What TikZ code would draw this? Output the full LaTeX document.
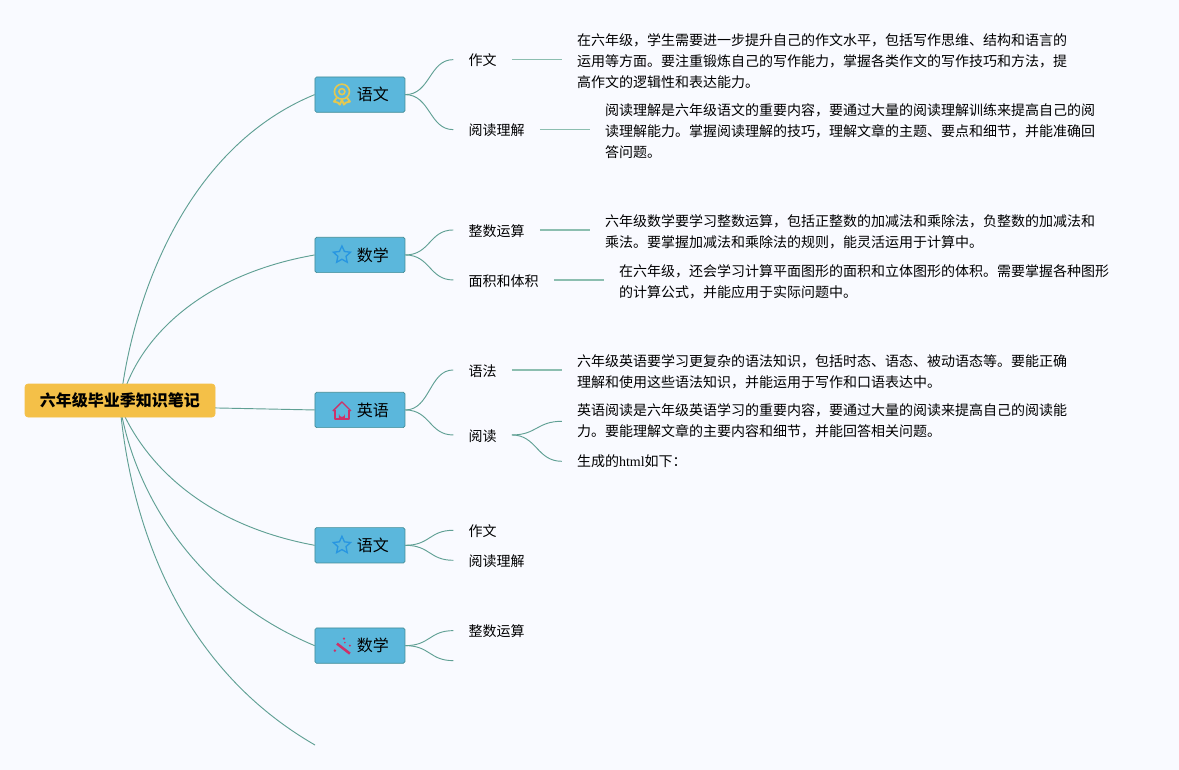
\documentclass[tikz,border=0pt]{standalone}
\usepackage{fontspec}
\setmainfont{Noto Sans CJK SC}
\newfontfamily\htmlfont{Liberation Serif}
\newcommand{\dou}{^^^^ff0c}
\newcommand{\mao}{^^^^ff1a}
\definecolor{paper}{RGB}{249,250,255}
\definecolor{rootfill}{RGB}{244,192,72}
\definecolor{topicfill}{RGB}{91,183,220}
\definecolor{topicline}{RGB}{66,140,150}
\definecolor{linkgreen}{RGB}{96,160,148}
\definecolor{stubgreen}{RGB}{140,190,176}
\definecolor{ribbongold}{RGB}{228,200,80}
\definecolor{starblue}{RGB}{40,150,225}
\definecolor{crimson}{RGB}{205,50,105}
\usepackage{tikz}
\usetikzlibrary{positioning,shapes.geometric,backgrounds}

\begin{document}
\begin{tikzpicture}[
    x=0.75pt, y=-0.75pt,
    rootbox/.style={draw=rootfill, fill=rootfill, rounded corners=2.2pt, minimum width=142.5pt, minimum height=24.75pt, inner sep=0pt, font=\fontsize{12}{14}\selectfont\bfseries},
    topic/.style={draw=topicline, line width=0.5pt, fill=topicfill, rounded corners=1.2pt, minimum width=67.5pt, minimum height=26.5pt, inner sep=0pt, font=\fontsize{12}{14}\selectfont},
    branch/.style={draw=linkgreen, line width=0.7pt},
    twig/.style={draw=linkgreen, line width=0.7pt},
    stub/.style={draw=stubgreen, line width=0.9pt},
    child/.style={inner xsep=11.25pt, inner ysep=0pt, text height=11.5pt, text depth=2pt, font=\fontsize{10.5}{15.75}\selectfont},
    leaf/.style={inner xsep=11.25pt, inner ysep=1pt, yshift=-1.25pt, align=left, font=\fontsize{10.5}{15.75}\selectfont},
    staricon/.style={star, star points=5, star point ratio=2.1, draw=starblue, line width=1pt, minimum size=13.5pt, inner sep=0pt},
    medal/.pic={
        \draw[ribbongold, line width=1.2pt] (0,-3) circle (7.5);
        \draw[ribbongold, line width=1.2pt] (0,-3) circle (3);
        \draw[ribbongold, line width=1.4pt, line join=round] (-5,3) -- (-8,7) -- (-4,8) -- (-2,10) -- (0,5) -- (2,10) -- (4,8) -- (8,7) -- (5,3);
    },
    house/.pic={
        \draw[crimson, line width=1pt, line join=round] (-9,1) -- (0,-8) -- (9,1);
        \draw[crimson, line width=1pt, line join=round] (-7,0) -- (-7,9) -- (7,9) -- (7,0);
        \fill[crimson] (-3,9) -- (-3,4) arc[start angle=180, end angle=0, radius=3] -- (3,9) -- cycle;
    },
    wand/.pic={
        \draw[crimson, line width=1.9pt] (-5,-2) -- (8,8);
        \fill[crimson] (2,-7) circle (1.3) (-7,5) circle (1.4) (8,0) circle (1.1);
        \fill[crimson] (3,-3) circle (0.9);
    }
]
    \node[rootbox] (root) at (120,400.5) {六年级毕业季知识笔记};
    \coordinate (hub) at (120,406);

    \node[topic, right=74.5pt of root, yshift=-7.1pt] (yingyu) {\hspace{19.5pt}英语};
    \node[topic, above=89.25pt of yingyu] (shuxue) {\hspace{19.5pt}数学};
    \node[topic, above=93.25pt of shuxue] (yuwen) {\hspace{19.5pt}语文};
    \node[topic, below=74.5pt of yingyu] (yuwenb) {\hspace{19.5pt}语文};
    \node[topic, below=48.25pt of yuwenb] (shuxueb) {\hspace{19.5pt}数学};
    \coordinate (lastend) at (315,745);

    \pic at ([xshift=-13.5pt]yuwen.center) {medal};
    \node[staricon] (star1) at ([xshift=-13.5pt]shuxue.center) {};
    \pic at ([xshift=-13.5pt]yingyu.center) {house};
    \node[staricon] (star2) at ([xshift=-13.5pt]yuwenb.center) {};
    \pic at ([xshift=-13.5pt]shuxueb.center) {wand};

    \node[child, right=36pt of yuwen, yshift=26.25pt] (zuowen) {作文};
    \node[child, right=36pt of yuwen, yshift=-26.25pt] (yuedu) {阅读理解};
    \node[child, right=36pt of shuxue, yshift=18.75pt] (zhengshu) {整数运算};
    \node[child, right=36pt of shuxue, yshift=-18.75pt] (mianji) {面积和体积};
    \node[child, right=36pt of yingyu, yshift=30pt] (yufa) {语法};
    \node[child, right=36pt of yingyu, yshift=-18.75pt] (ydu) {阅读};
    \node[child, right=36pt of yuwenb, yshift=11.25pt] (zuowenb) {作文};
    \node[child, right=36pt of yuwenb, yshift=-11.25pt] (yuedub) {阅读理解};
    \node[child, right=36pt of shuxueb, yshift=11.25pt] (zhengshub) {整数运算};
    \coordinate[right=36pt of shuxueb, yshift=-11.25pt] (blankend);

    \node[leaf, right=37.5pt of zuowen] (zuowentxt) {在六年级\dou{}学生需要进一步提升自己的作文水平\dou{}包括写作思维、结构和语言的\\运用等方面。要注重锻炼自己的写作能力\dou{}掌握各类作文的写作技巧和方法\dou{}提\\高作文的逻辑性和表达能力。};
    \node[leaf, right=37.5pt of yuedu] (yuedutxt) {阅读理解是六年级语文的重要内容\dou{}要通过大量的阅读理解训练来提高自己的阅\\读理解能力。掌握阅读理解的技巧\dou{}理解文章的主题、要点和细节\dou{}并能准确回\\答问题。};
    \node[leaf, right=37.5pt of zhengshu] (zhengshutxt) {六年级数学要学习整数运算\dou{}包括正整数的加减法和乘除法\dou{}负整数的加减法和\\乘法。要掌握加减法和乘除法的规则\dou{}能灵活运用于计算中。};
    \node[leaf, right=37.5pt of mianji] (mianjitxt) {在六年级\dou{}还会学习计算平面图形的面积和立体图形的体积。需要掌握各种图形\\的计算公式\dou{}并能应用于实际问题中。};
    \node[leaf, right=37.5pt of yufa] (yufatxt) {六年级英语要学习更复杂的语法知识\dou{}包括时态、语态、被动语态等。要能正确\\理解和使用这些语法知识\dou{}并能运用于写作和口语表达中。};
    \node[leaf, right=37.5pt of ydu, yshift=11.5pt] (ydutxt) {英语阅读是六年级英语学习的重要内容\dou{}要通过大量的阅读来提高自己的阅读能\\力。要能理解文章的主要内容和细节\dou{}并能回答相关问题。};
    \node[leaf, right=37.5pt of ydu, yshift=-18.5pt] (htmltxt) {生成的{\htmlfont html}如下\mao{}};

    \begin{scope}[on background layer]
        \fill[paper] (0,0) rectangle (1179,770);
        \draw[branch] (hub) .. controls (130,310) and (180,150) .. (yuwen.west);
        \draw[branch] (hub) .. controls (135,340) and (200,275) .. (shuxue.west);
        \draw[branch] (hub) -- (yingyu.west);
        \draw[branch] (hub) .. controls (145,465) and (205,525) .. (yuwenb.west);
        \draw[branch] (hub) .. controls (137,505) and (205,600) .. (shuxueb.west);
        \draw[branch] (hub) .. controls (132,535) and (185,670) .. (lastend);
    \end{scope}

    \draw[twig] (yuwen.east) .. controls +(25,0) and +(-24,0) .. (zuowen.west);
    \draw[twig] (yuwen.east) .. controls +(25,0) and +(-24,0) .. (yuedu.west);
    \draw[twig] (shuxue.east) .. controls +(25,0) and +(-24,0) .. (zhengshu.west);
    \draw[twig] (shuxue.east) .. controls +(25,0) and +(-24,0) .. (mianji.west);
    \draw[twig] (yingyu.east) .. controls +(25,0) and +(-24,0) .. (yufa.west);
    \draw[twig] (yingyu.east) .. controls +(25,0) and +(-24,0) .. (ydu.west);
    \draw[twig] (yuwenb.east) .. controls +(25,0) and +(-24,0) .. (zuowenb.west);
    \draw[twig] (yuwenb.east) .. controls +(25,0) and +(-24,0) .. (yuedub.west);
    \draw[twig] (shuxueb.east) .. controls +(25,0) and +(-24,0) .. (zhengshub.west);
    \draw[twig] (shuxueb.east) .. controls +(25,0) and +(-24,0) .. (blankend);

    \draw[stub] (zuowen.east) -- (zuowen.east -| zuowentxt.west);
    \draw[stub] (yuedu.east) -- (yuedu.east -| yuedutxt.west);
    \draw[stub] (zhengshu.east) -- (zhengshu.east -| zhengshutxt.west);
    \draw[stub] (mianji.east) -- (mianji.east -| mianjitxt.west);
    \draw[stub] (yufa.east) -- (yufa.east -| yufatxt.west);
    \draw[twig] (ydu.east) .. controls +(25,0) and +(-25,0) .. (ydutxt.west);
    \draw[twig] (ydu.east) .. controls +(25,0) and +(-25,0) .. (htmltxt.west);
\end{tikzpicture}
\end{document}
